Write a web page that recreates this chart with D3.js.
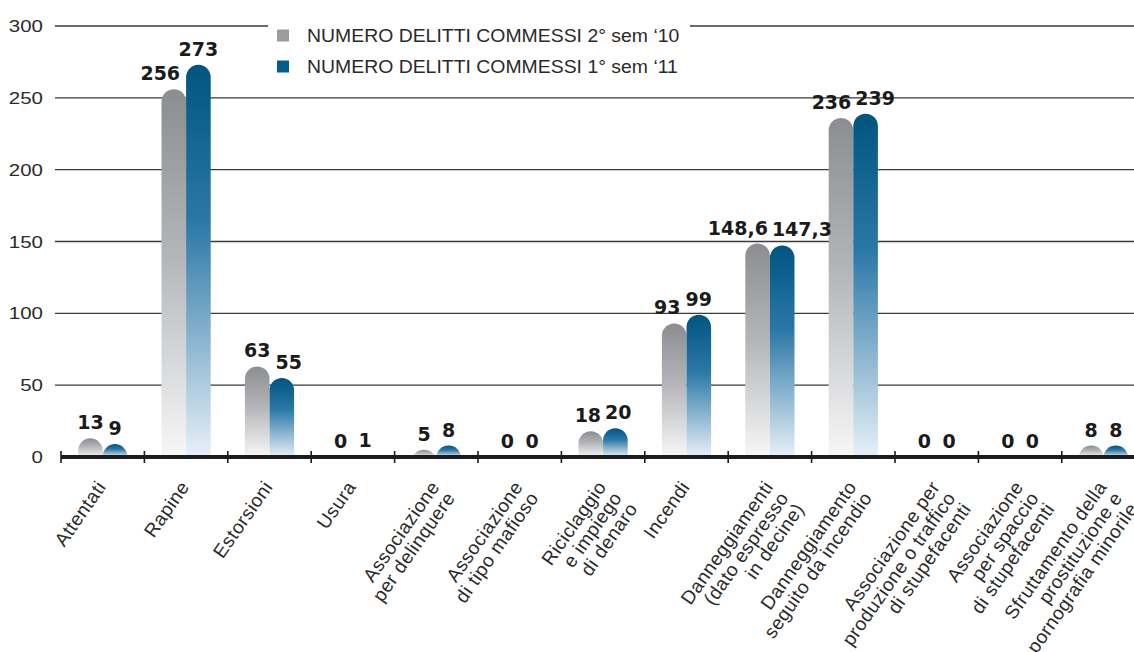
<!DOCTYPE html>
<html><head><meta charset="utf-8">
<script src="https://cdn.jsdelivr.net/npm/d3@7"></script>
<style>body{margin:0;background:#fff}</style>
</head><body>
<svg id="chart" width="1134" height="652"></svg>
<script>
const categories = [
  "Attentati",
  "Rapine",
  "Estorsioni",
  "Usura",
  "Associazione\nper delinquere",
  "Associazione\ndi tipo mafioso",
  "Riciclaggio\ne impiego\ndi denaro",
  "Incendi",
  "Danneggiamenti\n(dato espresso\nin decine)",
  "Danneggiamento\nseguito da incendio",
  "Associazione per\nproduzione o traffico\ndi stupefacenti",
  "Associazione\nper spaccio\ndi stupefacenti",
  "Sfruttamento della\nprostituzione e\npornografia minorile"
];
const seriesNames = ["NUMERO DELITTI COMMESSI 2° sem ‘10", "NUMERO DELITTI COMMESSI 1° sem ‘11"];
const sem2_2010 = [13, 256, 63, 0, 5, 0, 18, 93, 148.6, 236, 0, 0, 8];
const sem1_2011 = [9, 273, 55, 1, 8, 0, 20, 99, 147.3, 239, 0, 0, 8];
const yTicks = [0, 50, 100, 150, 200, 250, 300];

const W = 1134, H = 652;
const svg = d3.select("#chart");
const defs = svg.append("defs");

const x = d3.scaleBand().domain(categories).range([61, 61 + 13 * 83.4]).padding(0);
const bw = x.bandwidth();
const x1 = d3.scaleBand().domain([0, 1]).range([bw * 0.205, bw * 0.795]).padding(0);
const y = d3.scaleLinear().domain([0, 300]).range([457, 26]);

// gradients
function grad(id, stops) {
  const g = defs.append("linearGradient").attr("id", id).attr("x1", 0).attr("y1", 0).attr("x2", 0).attr("y2", 1);
  stops.forEach(s => g.append("stop").attr("offset", s[0]).attr("stop-color", s[1]));
}
grad("gGray", [[0, "#8b8d90"], [0.45, "#b3b5b8"], [1, "#f7f7f7"]]);
grad("gBlue", [[0, "#00557f"], [0.4, "#2b78a7"], [1, "#e8f0f8"]]);
const fills = ["url(#gGray)", "url(#gBlue)"];
const legendColors = ["#9b9c9e", "#005e8d"];

// gridlines
svg.append("g").selectAll("line").data(yTicks.filter(d => d > 0)).join("line")
  .attr("x1", 55).attr("x2", W).attr("y1", d => y(d)).attr("y2", d => y(d))
  .attr("stroke", "#3a3a3a").attr("stroke-width", 1.4);

// tick labels
svg.append("g").selectAll("text").data(yTicks).join("text")
  .attr("transform", d => `translate(43,${y(d) + 6}) scale(1.22,1)`)
  .attr("text-anchor", "end")
  .attr("font-family", "Liberation Sans, Arial, sans-serif")
  .attr("font-size", 16.8).attr("fill", "#2a2a2a")
  .text(d => d);

// legend
const lg = svg.append("g");
lg.append("rect").attr("x", 268).attr("y", 18).attr("width", 422).attr("height", 64).attr("fill", "#fff");
seriesNames.forEach((n, i) => {
  lg.append("rect").attr("x", 277).attr("y", 29.5 + i * 31).attr("width", 12).attr("height", 12).attr("fill", legendColors[i]);
  lg.append("text").attr("transform", `translate(307,${42 + i * 30.5}) scale(1.05,1)`)
    .attr("font-family", "Liberation Sans, Arial, sans-serif").attr("font-size", 18.5).attr("fill", "#2a2a2a")
    .text(n);
});

// bars
function domePath(x0, w, base, top) {
  const r = w / 2, cx = x0 + r, h = base - top;
  if (h <= 0) return "";
  if (h >= r) return `M${x0},${base}V${top + r}A${r},${r} 0 0 1 ${x0 + w},${top + r}V${base}Z`;
  const hc = Math.sqrt(r * r - (r - h) * (r - h));
  return `M${cx - hc},${base}A${r},${r} 0 0 1 ${cx + hc},${base}Z`;
}
const series = [sem2_2010, sem1_2011];
const barsG = svg.append("g");
series.forEach((vals, si) => {
  barsG.append("g").selectAll("path").data(categories).join("path")
    .attr("d", (c, i) => domePath(x(c) + x1(si), x1.bandwidth(), y(0), y(vals[i])))
    .attr("fill", fills[si]);
});

// axis
const ax = svg.append("g");
ax.append("line").attr("x1", 61).attr("x2", W).attr("y1", y(0)).attr("y2", y(0))
  .attr("stroke", "#1c1c1c").attr("stroke-width", 4);
ax.selectAll("line.tk").data(categories).join("line").attr("class", "tk")
  .attr("x1", c => x(c)).attr("x2", c => x(c)).attr("y1", 451).attr("y2", 463)
  .attr("stroke", "#1c1c1c").attr("stroke-width", 1.6);

// category labels
const catG = svg.append("g");
categories.forEach(c => {
  const cx = x(c) + bw / 2;
  const g = catG.append("g").attr("transform", `translate(${cx + 4},${487}) rotate(-55)`);
  c.split("\n").forEach((ln, i) => g.append("text")
    .attr("x", 0).attr("y", i * 19)
    .attr("text-anchor", "end")
    .attr("font-family", "Liberation Sans, Arial, sans-serif")
    .attr("font-size", 19).attr("letter-spacing", 0.5).attr("fill", "#2a2a2a")
    .text(ln));
});

// value labels
const fmt = v => String(v).replace(".", ",");
const valG = svg.append("g");
categories.forEach((c, i) => {
  const g = sem2_2010[i], b = sem1_2011[i];
  const bc = x(c) + bw / 2;
  const gcx = x(c) + x1(0) + x1.bandwidth() / 2;
  const bcx = x(c) + x1(1) + x1.bandwidth() / 2;
  const mk = (v) => valG.append("text")
    .attr("text-anchor", "middle")
    .attr("font-family", "DejaVu Sans, sans-serif").attr("font-weight", "bold")
    .attr("font-size", 19).attr("fill", "#1b1b1b").text(fmt(v));
  const tg = mk(g), tb = mk(b);
  const wg = tg.node().getComputedTextLength(), wb = tb.node().getComputedTextLength();
  const yg = y(g) - 9, yb = y(b) - 9;
  let gx = gcx, bx = bcx;
  if (y(b) < yg + 2) gx = Math.min(gx, bc - 6 - wg / 2);
  if (y(g) < yb + 2) bx = Math.max(bx, bc + 6 + wb / 2);
  if (Math.abs(yg - yb) < 16) {
    const ov = (gx + wg / 2 + 4) - (bx - wb / 2);
    if (ov > 0) { gx -= ov / 2; bx += ov / 2; }
  }
  tg.attr("x", gx).attr("y", yg);
  tb.attr("x", bx).attr("y", yb);
});
</script>
</body></html>
